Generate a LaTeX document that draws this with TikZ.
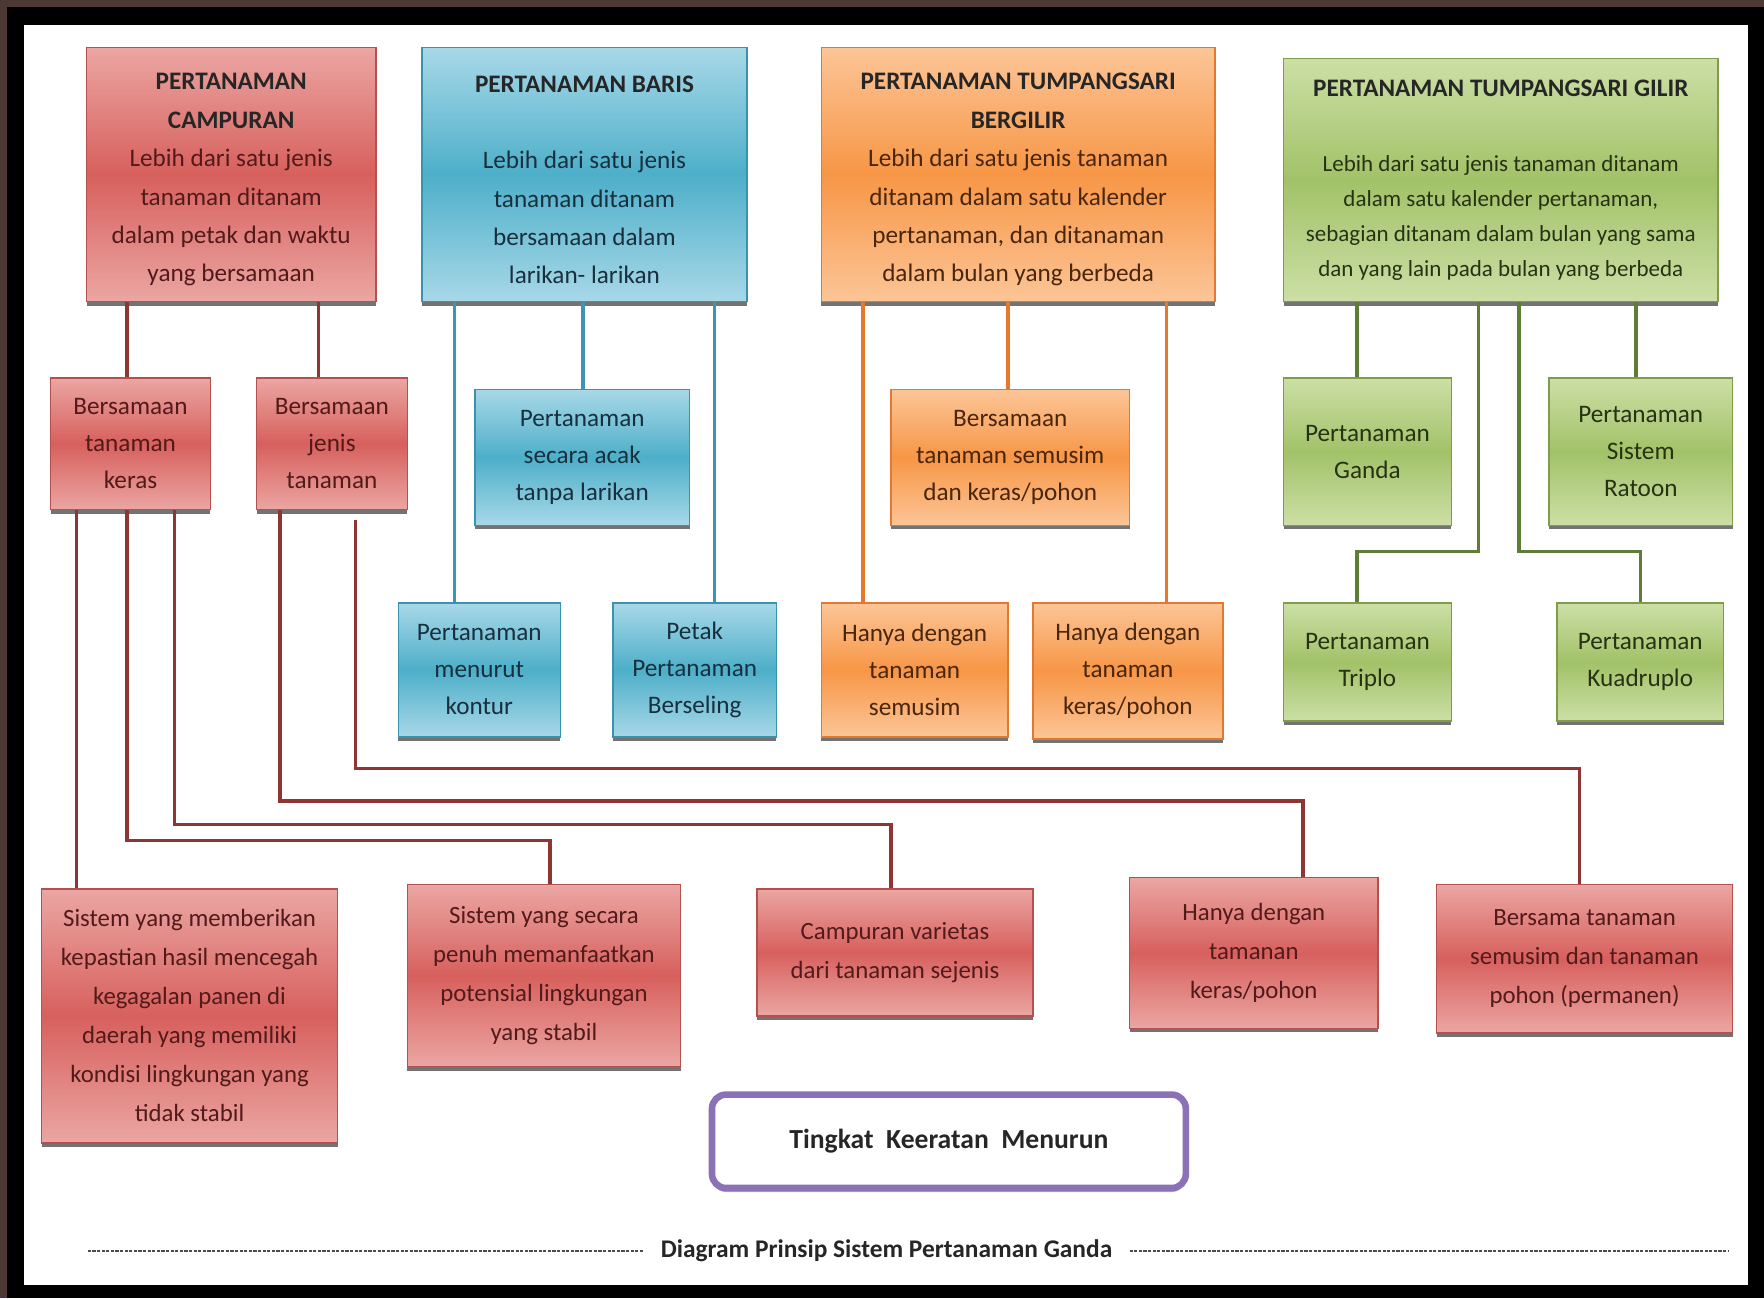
\documentclass[tikz,border=0pt]{standalone}
\usepackage{fontspec}
\setmainfont{Carlito}
\usetikzlibrary{shadows}
\definecolor{redA}{HTML}{EBA6A3}
\definecolor{redB}{HTML}{D7605D}
\definecolor{redL}{HTML}{B4504E}
\definecolor{redT}{HTML}{521A1A}
\definecolor{redC}{HTML}{8E3634}
\definecolor{bluA}{HTML}{A8D8E8}
\definecolor{bluB}{HTML}{4DAFC9}
\definecolor{bluL}{HTML}{3A93AE}
\definecolor{bluT}{HTML}{18303E}
\definecolor{bluC}{HTML}{3C95B2}
\definecolor{orA}{HTML}{FCC597}
\definecolor{orB}{HTML}{F79646}
\definecolor{orL}{HTML}{E3782E}
\definecolor{orT}{HTML}{4A260C}
\definecolor{orC}{HTML}{E8772E}
\definecolor{grA}{HTML}{CCDFA6}
\definecolor{grB}{HTML}{A2C268}
\definecolor{grL}{HTML}{7F9C48}
\definecolor{grT}{HTML}{263212}
\definecolor{grC}{HTML}{5F7D36}
\definecolor{purL}{HTML}{8B72B6}
\definecolor{frameB}{HTML}{4D3833}
\newcommand\mybox[7]{\node[#1, minimum width={(#5-#3)*0.5pt}, minimum height={(#6-#4)*0.5pt}] (#2) at ({(#3+#5)/2},{(#4+#6)/2}) {#7};}
\newcommand\hd[1]{{\bfseries\color{black!85}#1}}
\tikzset{
  basebox/.style={rectangle, inner sep=0pt, align=center, line width=0.8pt,
    drop shadow={shadow xshift=0pt, shadow yshift=-2pt, opacity=0.55, fill=black},
    font=\fontsize{12.6pt}{18.5pt}\selectfont},
  redbox/.style={basebox, draw=redL, top color=redA, bottom color=redA, middle color=redB, text=redT},
  bluebox/.style={basebox, draw=bluL, top color=bluA, bottom color=bluA, middle color=bluB, text=bluT},
  orbox/.style={basebox, draw=orL, top color=orA, bottom color=orA, middle color=orB, text=orT},
  grbox/.style={basebox, draw=grL, top color=grA, bottom color=grA, middle color=grB, text=grT},
  topfont/.style={font=\fontsize{12.6pt}{19.2pt}\selectfont},
  lowfont/.style={font=\fontsize{12.4pt}{19.5pt}\selectfont},
  conn/.style={line width=1.8pt},
  redline/.style={conn, draw=redC},
  blueline/.style={conn, draw=bluC},
  orline/.style={conn, draw=orC},
  grline/.style={conn, draw=grC},
}
\begin{document}
\begin{tikzpicture}[x=0.5pt, y=-0.5pt]
\useasboundingbox (0,0) rectangle (1764,1298);
% frame
\fill[frameB] (0,0) rectangle (1764,1298);
\fill[black] (7,7) rectangle (1764,1298);
\fill[white] (24,25) rectangle (1748,1285);

% top row
\mybox{redbox, topfont}{camp}{86.6}{47.3}{375.8}{301.5}{\mbox{}\\[-5.5pt]\hd{PERTANAMAN}\\ \hd{CAMPURAN}\\ Lebih dari satu jenis\\ tanaman ditanam\\ dalam petak dan waktu\\ yang bersamaan}
\mybox{bluebox, topfont}{baris}{421.9}{47.3}{747}{301.5}{\mbox{}\\[-5.5pt]\hd{PERTANAMAN BARIS}\\[19pt] Lebih dari satu jenis\\ tanaman ditanam\\ bersamaan dalam\\ larikan- larikan}
\mybox{orbox, topfont}{bergilir}{821.3}{47.3}{1215}{301.5}{\mbox{}\\[-5.5pt]\hd{PERTANAMAN TUMPANGSARI}\\ \hd{BERGILIR}\\ Lebih dari satu jenis tanaman\\ ditanam dalam satu kalender\\ pertanaman, dan ditanaman\\ dalam bulan yang berbeda}
\mybox{grbox, font=\fontsize{11.5pt}{17.5pt}\selectfont}{gilir}{1283.6}{58.5}{1717.9}{301.5}{{\fontsize{12.6pt}{17.5pt}\selectfont\hd{PERTANAMAN TUMPANGSARI GILIR}}\\[20pt] Lebih dari satu jenis tanaman ditanam\\ dalam satu kalender pertanaman,\\ sebagian ditanam dalam bulan yang sama\\ dan yang lain pada bulan yang berbeda}

% second row
\mybox{redbox}{keras}{50.6}{378}{210.4}{509.6}{Bersamaan\\ tanaman\\ keras}
\mybox{redbox}{jenis}{256.5}{378}{407.3}{509.6}{Bersamaan\\ jenis\\ tanaman}
\mybox{bluebox}{acak}{474.8}{389.3}{689.6}{525.4}{Pertanaman\\ secara acak\\ tanpa larikan}
\mybox{orbox}{smkr}{891}{389.3}{1129.5}{525.4}{Bersamaan\\ tanaman semusim\\ dan keras/pohon}
\mybox{grbox}{ganda}{1283.6}{378}{1451.3}{525.4}{Pertanaman\\ Ganda}
\mybox{grbox}{ratoon}{1549}{378}{1732.5}{525.4}{Pertanaman\\ Sistem\\ Ratoon}

% third row
\mybox{bluebox}{kontur}{398.3}{603}{560.3}{736.9}{Pertanaman\\ menurut\\ kontur}
\mybox{bluebox}{petak}{613.1}{603}{776.3}{736.9}{Petak\\ Pertanaman\\ Berseling}
\mybox{orbox}{hsem}{821.3}{603}{1008}{736.9}{Hanya dengan\\ tanaman\\ semusim}
\mybox{orbox}{hker}{1032.8}{603}{1222.9}{739}{Hanya dengan\\ tanaman\\ keras/pohon}
\mybox{grbox}{triplo}{1283.6}{603}{1451.3}{721}{Pertanaman\\ Triplo}
\mybox{grbox}{kuad}{1557}{603}{1723.5}{721}{Pertanaman\\ Kuadruplo}

% bottom row
\mybox{redbox, lowfont}{sa}{41.6}{888.8}{337.5}{1143}{Sistem yang memberikan\\ kepastian hasil mencegah\\ kegagalan panen di\\ daerah yang memiliki\\ kondisi lingkungan yang\\ tidak stabil}
\mybox{redbox, lowfont}{sb}{407.3}{884.3}{680.6}{1066.5}{Sistem yang secara\\ penuh memanfaatkan\\ potensial lingkungan\\ yang stabil}
\mybox{redbox, lowfont}{sc}{757.1}{888.8}{1032.8}{1015.9}{Campuran varietas\\ dari tanaman sejenis}
\mybox{redbox, lowfont}{sd}{1129.5}{877.5}{1378.1}{1028.3}{Hanya dengan\\ tamanan\\ keras/pohon}
\mybox{redbox, lowfont}{se}{1436.6}{884.3}{1732.5}{1032.8}{Bersama tanaman\\ semusim dan tanaman\\ pohon (permanen)}

% purple box
\node[draw=purL, line width=3.3pt, rounded corners=7pt, fill=white,
  drop shadow={shadow xshift=0pt, shadow yshift=-2pt, opacity=0.3, fill=black},
  minimum width={(1185.8-712)*0.5pt}, minimum height={(1188-1094.6)*0.5pt},
  font=\fontsize{13.8pt}{16pt}\selectfont\bfseries, text=black!85]
  (tingkat) at ({(712+1185.8)/2},{(1094.6+1188)/2}) {Tingkat\ \ Keeratan\ \ Menurun};

% footer
\node[font=\fontsize{12.7pt}{15pt}\selectfont\bfseries, text=black!85, inner xsep=8.5pt, inner ysep=2pt]
  (foot) at (886.5,1251) {Diagram Prinsip Sistem Pertanaman Ganda};
\coordinate (dl) at (87.8,1251);
\coordinate (dr) at (1729,1251);
\draw[black!70, line width=1.2pt, dash pattern=on 1.6pt off 0.7pt] (dl) -- (foot.west);
\draw[black!70, line width=1.2pt, dash pattern=on 1.6pt off 0.7pt] (foot.east) -- (dr);

% connectors: campuran
\draw[redline] (camp.south -| 127.1,0) -- (keras.north -| 127.1,0);
\draw[redline] (camp.south -| 318.4,0) -- (jenis.north -| 318.4,0);
\draw[redline] (keras.south -| 76.5,0) -- (sa.north -| 76.5,0);
\draw[redline] (keras.south -| 127.1,0) |- (550.1,840.4) -- (sb.north -| 550.1,0);
\draw[redline] (keras.south -| 174.4,0) |- (891,824.6) -- (sc.north -| 891,0);
\draw[redline] (jenis.south -| 280.1,0) |- (1302.8,801) -- (sd.north -| 1302.8,0);
\draw[redline, shorten <=5pt] (jenis.south -| 355.5,0) |- (1579.5,768.4) -- (se.north -| 1579.5,0);
% baris
\draw[blueline] (baris.south -| 454.5,0) -- (kontur.north -| 454.5,0);
\draw[blueline] (baris.south -| 582.8,0) -- (acak.north -| 582.8,0);
\draw[blueline] (baris.south -| 714.4,0) -- (petak.north -| 714.4,0);
% bergilir
\draw[orline] (bergilir.south -| 862.9,0) -- (hsem.north -| 862.9,0);
\draw[orline] (bergilir.south -| 1008,0) -- (smkr.north -| 1008,0);
\draw[orline] (bergilir.south -| 1166.6,0) -- (hker.north -| 1166.6,0);
% gilir
\draw[grline] (gilir.south -| 1356.8,0) -- (ganda.north -| 1356.8,0);
\draw[grline] (gilir.south -| 1635.8,0) -- (ratoon.north -| 1635.8,0);
\draw[grline] (gilir.south -| 1478.3,0) |- (1356.8,551.3) -- (triplo.north -| 1356.8,0);
\draw[grline] (gilir.south -| 1518.8,0) |- (1640.3,551.3) -- (kuad.north -| 1640.3,0);
\end{tikzpicture}
\end{document}
